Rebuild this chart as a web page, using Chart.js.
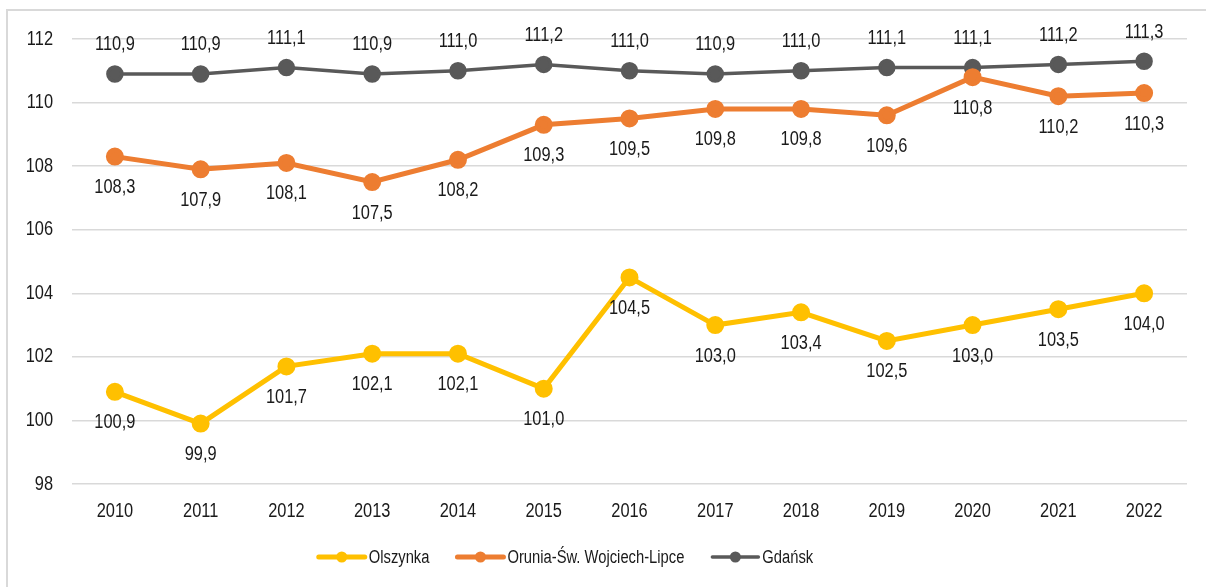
<!DOCTYPE html>
<html lang="pl">
<head>
    <meta charset="UTF-8">
    <title>Olszynka / Orunia / Gdańsk</title>
    <script src="https://cdn.jsdelivr.net/npm/chart.js"></script>
    <style>
        body { margin: 0; background: #fff; }
        canvas { display: block; }
    </style>
</head>
<body>
    <canvas id="chart" width="1206" height="587"></canvas>

    <script>
        const years = ['2010', '2011', '2012', '2013', '2014', '2015', '2016', '2017', '2018', '2019', '2020', '2021', '2022'];
        const olszynka = [100.9, 99.9, 101.7, 102.1, 102.1, 101.0, 104.5, 103.0, 103.4, 102.5, 103.0, 103.5, 104.0];
        const orunia = [108.3, 107.9, 108.1, 107.5, 108.2, 109.3, 109.5, 109.8, 109.8, 109.6, 110.8, 110.2, 110.3];
        const gdansk = [110.9, 110.9, 111.1, 110.9, 111.0, 111.2, 111.0, 110.9, 111.0, 111.1, 111.1, 111.2, 111.3];
        const yMin = 98, yMax = 112, yStep = 2;

        const FONT = "'Liberation Sans', Arial, sans-serif";
        const TEXT = '#1a1a1a';
        const fmt = v => v.toFixed(1).replace('.', ',');

        // no narrow font installed, so squeeze Liberation Sans horizontally
        function narrowText(ctx, str, x, y, size, align) {
            ctx.save();
            ctx.font = size + 'px ' + FONT;
            ctx.fillStyle = TEXT;
            ctx.textAlign = align || 'center';
            ctx.textBaseline = 'middle';
            ctx.translate(x, y);
            ctx.scale(0.82, 1);
            ctx.fillText(str, 0, 0);
            ctx.restore();
        }
        function narrowWidth(ctx, str, size) {
            ctx.save();
            ctx.font = size + 'px ' + FONT;
            const w = ctx.measureText(str).width * 0.82;
            ctx.restore();
            return w;
        }

        // tick labels + value labels (gdansk above, others below)
        const textLayer = {
            id: 'textLayer',
            afterDatasetsDraw(chart) {
                const ctx = chart.ctx;
                const xs = chart.scales.x, ys = chart.scales.y;
                ys.ticks.forEach((t, i) => {
                    narrowText(ctx, String(t.value), chart.chartArea.left - 19, ys.getPixelForTick(i), 20, 'right');
                });
                xs.ticks.forEach((t, i) => {
                    narrowText(ctx, chart.data.labels[t.value], xs.getPixelForTick(i), chart.chartArea.bottom + 27, 20, 'center');
                });
                chart.data.datasets.forEach((ds, i) => {
                    chart.getDatasetMeta(i).data.forEach((pt, j) => {
                        const dy = ds.labelPos === 'above' ? -29 : 31;
                        narrowText(ctx, fmt(ds.data[j]), pt.x, pt.y + dy, 20, 'center');
                    });
                });
            }
        };

        // frame + legend drawn by hand (line with dot, tight text gap like Excel)
        const frameLegend = {
            id: 'frameLegend',
            beforeDraw(chart) {
                const ctx = chart.ctx;
                ctx.save();
                ctx.strokeStyle = '#d9d9d9';
                ctx.lineWidth = 2;
                ctx.beginPath();
                ctx.moveTo(7, chart.height + 5);
                ctx.lineTo(7, 10);
                ctx.lineTo(chart.width + 5, 10);
                ctx.stroke();
                ctx.restore();
            },
            afterDraw(chart) {
                const ctx = chart.ctx;
                const lineLen = 46, gap = 4, itemGap = 28, size = 18;
                const items = chart.data.datasets.map(ds => ({ ds, w: narrowWidth(ctx, ds.label, size) }));
                const total = items.reduce((s, it) => s + lineLen + gap + it.w, 0) + itemGap * (items.length - 1);
                let x = 566 - total / 2;
                const y = 557;
                items.forEach(it => {
                    ctx.save();
                    ctx.strokeStyle = it.ds.borderColor;
                    ctx.lineWidth = it.ds.borderWidth;
                    ctx.lineCap = 'round';
                    ctx.beginPath();
                    ctx.moveTo(x, y);
                    ctx.lineTo(x + lineLen, y);
                    ctx.stroke();
                    ctx.fillStyle = it.ds.borderColor;
                    ctx.beginPath();
                    ctx.arc(x + lineLen / 2, y, 5.5, 0, Math.PI * 2);
                    ctx.fill();
                    ctx.restore();
                    narrowText(ctx, it.ds.label, x + lineLen + gap, y + 1, size, 'left');
                    x += lineLen + gap + it.w + itemGap;
                });
            }
        };

        new Chart(document.getElementById('chart'), {
            type: 'line',
            data: {
                labels: years,
                datasets: [
                    {
                        label: 'Olszynka',
                        data: olszynka,
                        borderColor: '#ffc000',
                        backgroundColor: '#ffc000',
                        borderWidth: 5,
                        pointRadius: 6.5,
                        pointHoverRadius: 6.5,
                        labelPos: 'below'
                    },
                    {
                        label: 'Orunia-Św. Wojciech-Lipce',
                        data: orunia,
                        borderColor: '#ed7d31',
                        backgroundColor: '#ed7d31',
                        borderWidth: 5,
                        pointRadius: 6.5,
                        pointHoverRadius: 6.5,
                        labelPos: 'below'
                    },
                    {
                        label: 'Gdańsk',
                        data: gdansk,
                        borderColor: '#595959',
                        backgroundColor: '#595959',
                        borderWidth: 3.5,
                        pointRadius: 7,
                        pointHoverRadius: 7,
                        labelPos: 'above'
                    }
                ]
            },
            options: {
                responsive: false,
                animation: false,
                layout: { padding: { left: 0, right: 19, top: 39, bottom: 0 } },
                plugins: {
                    legend: { display: false },
                    tooltip: { enabled: false }
                },
                scales: {
                    x: {
                        offset: true,
                        grid: { display: false },
                        border: { display: false },
                        // labels are drawn narrow in textLayer
                        ticks: { color: 'transparent', font: { family: FONT, size: 20 }, maxRotation: 0, autoSkip: false },
                        afterFit: s => { s.height = 587 - 484; }
                    },
                    y: {
                        min: yMin,
                        max: yMax,
                        grid: { color: '#d9d9d9', lineWidth: 1.5, drawTicks: false },
                        border: { display: false },
                        ticks: { stepSize: yStep, color: 'transparent', font: { family: FONT, size: 20 } },
                        afterFit: s => { s.width = 72; }
                    }
                }
            },
            plugins: [textLayer, frameLegend]
        });
    </script>
</body>
</html>
